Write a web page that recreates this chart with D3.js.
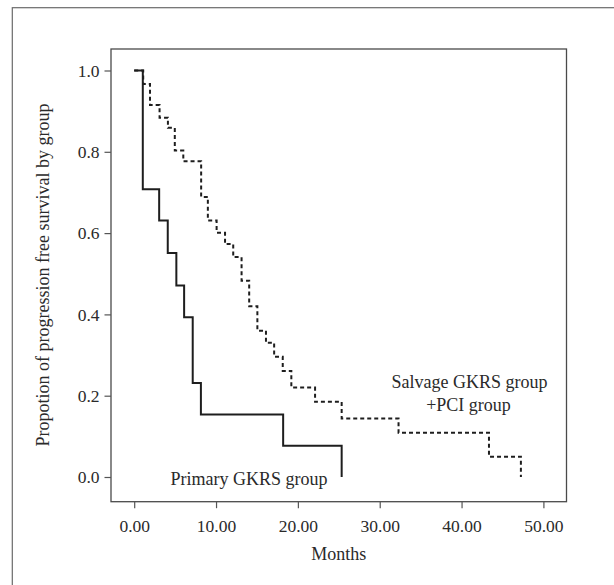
<!DOCTYPE html>
<html>
<head>
<meta charset="utf-8">
<script src="https://cdn.jsdelivr.net/npm/d3@7"></script>
<style>
  html, body { margin: 0; padding: 0; background: #fff; }
  svg { display: block; }
  text { font-family: "Liberation Serif", "DejaVu Serif", serif; fill: #2a2a2a; }
</style>
</head>
<body>
<svg id="chart" width="614" height="585"></svg>
<script>
// ---- Data ----
const primaryTimes = [0, 1.05, 3.05, 4.1, 5.15, 6.1, 7.15, 8.15, 18.2, 25.35];
const primarySurv  = [1.0, 0.708, 0.631, 0.551, 0.471, 0.393, 0.231, 0.154, 0.077, 0];

const salvageTimes = [0, 1.1, 1.93, 3.1, 4.12, 4.96, 6.0, 8.18, 9.0, 10.07, 11.1, 12.1, 13.12, 14.05, 15.05, 16.1, 17.1, 18.15, 19.2, 22.1, 25.35, 32.3, 43.35, 47.25];
const salvageSurv  = [1.0, 0.967, 0.915, 0.884, 0.859, 0.803, 0.777, 0.689, 0.631, 0.601, 0.573, 0.541, 0.483, 0.420, 0.360, 0.330, 0.296, 0.261, 0.220, 0.185, 0.144, 0.109, 0.050, 0];

const xTicks = [0, 10, 20, 30, 40, 50];
const yTicks = [0, 0.2, 0.4, 0.6, 0.8, 1.0];

const xTitle = "Months";
const yTitle = "Propotion of progression free survival by group";
const primaryLabel = "Primary GKRS group";
const salvageLabel1 = "Salvage GKRS group";
const salvageLabel2 = "+PCI group";

// ---- Layout ----
const svg = d3.select("#chart");
const box = { left: 111, right: 566.5, top: 49, bottom: 501.7 };

const x = d3.scaleLinear().domain([0, 50]).range([134.2, 543.4]);
const y = d3.scaleLinear().domain([0, 1]).range([477, 70.5]);

// outer frame (extends beyond the picture at right/bottom)
svg.append("rect")
  .attr("x", 12.3).attr("y", 7.7)
  .attr("width", 700).attr("height", 700)
  .attr("fill", "none").attr("stroke", "#6a6a6a").attr("stroke-width", 1.2);

// plot box
svg.append("rect")
  .attr("x", box.left).attr("y", box.top)
  .attr("width", box.right - box.left).attr("height", box.bottom - box.top)
  .attr("fill", "none").attr("stroke", "#4a4a4a").attr("stroke-width", 1.3);

// axes
const xAxis = d3.axisBottom(x).tickValues(xTicks).tickFormat(d3.format(".2f"))
  .tickSize(6.5).tickPadding(11);
const gx = svg.append("g").attr("transform", `translate(0,${box.bottom})`).call(xAxis);
gx.select(".domain").remove();
gx.selectAll(".tick line").attr("stroke", "#555").attr("stroke-width", 1.2);
gx.selectAll(".tick text").style("font-family", '"Liberation Serif", serif')
  .style("font-size", "17.5px").attr("fill", "#2a2a2a");

const yAxis = d3.axisLeft(y).tickValues(yTicks).tickFormat(d3.format(".1f"))
  .tickSize(6.5).tickPadding(5);
const gy = svg.append("g").attr("transform", `translate(${box.left},0)`).call(yAxis);
gy.select(".domain").remove();
gy.selectAll(".tick line").attr("stroke", "#555").attr("stroke-width", 1.2);
gy.selectAll(".tick text").style("font-family", '"Liberation Serif", serif')
  .style("font-size", "17.5px").attr("fill", "#2a2a2a");

// curves
const line = d3.line().x(d => x(d[0])).y(d => y(d[1])).curve(d3.curveStepAfter);
const salvageData = salvageTimes.map((t, i) => [t, salvageSurv[i]]);
const primaryData = primaryTimes.map((t, i) => [t, primarySurv[i]]);

svg.append("path").datum(salvageData).attr("d", line)
  .attr("fill", "none").attr("stroke", "#1e1e1e").attr("stroke-width", 2)
  .attr("stroke-dasharray", "4,3");

svg.append("path").datum(primaryData).attr("d", line)
  .attr("fill", "none").attr("stroke", "#1e1e1e").attr("stroke-width", 2);

// in-plot labels
svg.append("text").attr("x", 249).attr("y", 485).attr("text-anchor", "middle")
  .style("font-size", "18px").text(primaryLabel);
svg.append("text").attr("x", 469.5).attr("y", 388.3).attr("text-anchor", "middle")
  .style("font-size", "18px").text(salvageLabel1);
svg.append("text").attr("x", 468.5).attr("y", 411).attr("text-anchor", "middle")
  .style("font-size", "18px").text(salvageLabel2);

// axis titles
svg.append("text").attr("x", (box.left + box.right) / 2).attr("y", 560)
  .attr("text-anchor", "middle").style("font-size", "18px").text(xTitle);
svg.append("text").attr("transform", "translate(49,275) rotate(-90)")
  .attr("text-anchor", "middle").style("font-size", "18px").text(yTitle);
</script>
</body>
</html>
